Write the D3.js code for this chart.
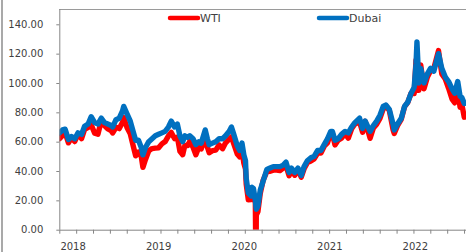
<!DOCTYPE html>
<html>
<head>
<meta charset="utf-8">
<script src="https://cdn.jsdelivr.net/npm/d3@7"></script>
<style>
  body { margin: 0; background: #fff; }
  svg { display: block; }
</style>
</head>
<body>
<svg width="466" height="252"></svg>
<script>
// data (approximate, roughly every two weeks)
const dates = [
  "2018-01-02","2018-01-15","2018-01-26","2018-02-09","2018-02-22","2018-03-08","2018-03-22","2018-04-06",
  "2018-04-19","2018-05-04","2018-05-17","2018-06-01","2018-06-15","2018-06-29","2018-07-13","2018-07-27",
  "2018-08-10","2018-08-17","2018-08-31","2018-09-14","2018-09-28","2018-10-03","2018-10-17","2018-10-31",
  "2018-11-14","2018-11-23","2018-12-05","2018-12-17","2018-12-24","2019-01-04","2019-01-18","2019-02-01",
  "2019-02-15","2019-03-01","2019-03-15","2019-03-29","2019-04-12","2019-04-24","2019-05-08","2019-05-20",
  "2019-05-31","2019-06-12","2019-06-21","2019-07-03","2019-07-12","2019-07-26","2019-08-07","2019-08-20",
  "2019-08-30","2019-09-16","2019-09-25","2019-10-03","2019-10-17","2019-10-31","2019-11-14","2019-11-29",
  "2019-12-12","2019-12-27","2020-01-06","2020-01-16","2020-01-31","2020-02-10","2020-02-20","2020-02-28",
  "2020-03-06","2020-03-09","2020-03-18","2020-03-31","2020-04-02","2020-04-09","2020-04-17","2020-04-20",
  "2020-04-21","2020-04-28","2020-05-08","2020-05-20","2020-06-05","2020-06-19","2020-07-03","2020-07-17",
  "2020-07-31","2020-08-14","2020-08-26","2020-09-08","2020-09-18","2020-10-02","2020-10-16","2020-10-30",
  "2020-11-11","2020-11-25","2020-12-10","2020-12-24","2021-01-08","2021-01-22","2021-02-05","2021-02-19",
  "2021-03-05","2021-03-12","2021-03-23","2021-04-06","2021-04-20","2021-05-05","2021-05-19","2021-06-02",
  "2021-06-16","2021-07-06","2021-07-19","2021-07-30","2021-08-20","2021-09-03","2021-09-17","2021-10-01",
  "2021-10-15","2021-10-26","2021-11-10","2021-11-26","2021-12-01","2021-12-15","2021-12-31","2022-01-14",
  "2022-01-28","2022-02-11","2022-02-24","2022-03-04","2022-03-08","2022-03-16","2022-03-24","2022-04-07",
  "2022-04-21","2022-05-05","2022-05-19","2022-06-08","2022-06-22","2022-07-07","2022-07-21","2022-08-05",
  "2022-08-16","2022-08-29","2022-09-08","2022-09-16","2022-09-26"
];

const wti = [
  62.0,64.3,66.1,59.2,62.8,60.1,65.2,62.1, 68.3,69.7,71.5,65.8,65.1,74.1,71.0,68.7,
  67.6,65.9,69.8,68.9,73.2,76.4,69.7,65.3, 56.2,50.4,52.9,49.9,42.5,47.9,53.8,55.3,
  55.6,55.8,58.5,60.1,63.9,66.3,62.1,63.1, 53.5,51.1,57.4,57.3,60.2,56.2,51.1,56.3,
  55.1,62.9,56.5,52.5,53.9,54.2,57.8,55.2, 59.2,61.7,63.3,58.5,51.6,49.6,53.9,45.3,
  41.3,31.1,20.4,20.5,25.3,22.8,18.3,-37.6, 10.0,12.3,24.7,33.5,39.6,39.8,40.6,40.6,
  40.3,42.0,43.4,36.8,41.1,37.1,40.9,35.8, 41.5,45.7,46.8,48.2,52.2,52.3,56.9,59.2,
  66.1,65.6,57.8,61.1,62.4,65.6,62.4,68.8, 72.1,73.4,66.4,73.9,62.3,69.3,71.9,75.9,
  82.3,84.6,81.3,68.2,65.6,70.9,75.2,83.8, 86.8,93.1,92.8,115.7,116.0,95.0,112.3,96.0,
  103.8,108.3,109.9,122.1,106.2,102.7,96.4,89.0, 86.5,97.0,83.5,85.1,76.7
];

const dubai = [
  66,68,68.5,61.5,63.5,62,66,65, 70.5,72,77,73,72,76,73,72,
  71,70,75,76,81,84,79,74, 66,61,61,56,51,56,60,62,
  64,65,66,67,70,74,70,72, 64,60,64,63,64,62,58,60,
  59,68,62,58,59,60,62,62, 64,67,70,65,57,54,59,51,
  47,35,25,23,29,28,20,15, 14,16,27,33,41,42,43,43,
  43,44,46,39,42,39,42,37, 43,47,49,50,54,54,58,62,
  67,67,61,62,65,67,66,70, 73,76,69,74,67,71,74,78,
  84,85,82,72,68,72,76,84, 87,93,97,113,128,100,110,100,
  106,110,108,120,110,104,101,96, 93,101,91,90,86
];

const seriesNames = ["WTI", "Dubai"];
const seriesColors = ["#ff0000", "#0070c0"];
const yTicks = [0, 20, 40, 60, 80, 100, 120, 140];
const yearLabels = ["2018", "2019", "2020", "2021", "2022"];

const plotLeft = 59.3;
const plotTop = 9;
const plotBottom = 229.7;
const svgWidth = 466;

const svg = d3.select("svg");
const parse = d3.timeParse("%Y-%m-%d");

// x: one day is about 0.234 px, Jan 1 2018 sits on the y axis
const x = d3.scaleTime()
  .domain([new Date(2018, 0, 1), new Date(2022, 0, 1)])
  .range([plotLeft, 401.5]);

const y = d3.scaleLinear()
  .domain([0, 140])
  .range([plotBottom, 24.3]);

// outer frame (only the left edge shows)
svg.append("line")
  .attr("x1", 2).attr("x2", 2)
  .attr("y1", 0).attr("y2", 252)
  .attr("stroke", "#8c8c8c")
  .attr("stroke-width", 1.5);

// plot area top border
svg.append("line")
  .attr("x1", plotLeft).attr("x2", svgWidth)
  .attr("y1", plotTop + 0.5).attr("y2", plotTop + 0.5)
  .attr("stroke", "#9a9a9a");

// clip so the negative WTI print stops at the axis
svg.append("clipPath").attr("id", "plot")
  .append("rect")
  .attr("x", plotLeft).attr("y", plotTop)
  .attr("width", svgWidth - plotLeft).attr("height", plotBottom - plotTop);

const rows = dates.map((d, i) => ({ date: parse(d), wti: wti[i], dubai: dubai[i] }));

const line = key => d3.line()
  .x(d => x(d.date))
  .y(d => y(d[key]));

const plot = svg.append("g").attr("clip-path", "url(#plot)");

["wti", "dubai"].forEach((key, i) => {
  plot.append("path")
    .datum(rows)
    .attr("fill", "none")
    .attr("stroke", seriesColors[i])
    .attr("stroke-width", 5.4)
    .attr("stroke-linejoin", "round")
    .attr("stroke-linecap", "round")
    .attr("d", line(key));
});

// y axis
const yAxis = svg.append("g")
  .attr("transform", `translate(${plotLeft},0)`)
  .call(d3.axisLeft(y).tickValues(yTicks).tickSize(3).tickPadding(13)
    .tickFormat(d3.format(".2f")));
yAxis.select(".domain").attr("d", `M0.5,${plotTop}V${plotBottom}`);

// x axis with evenly spaced minor ticks
const tickStart = new Date(2018, 0, 1);
const xTicks = d3.range(0, 26).map(i => d3.timeDay.offset(tickStart, i * 72));
const xAxis = svg.append("g")
  .attr("transform", `translate(0,${plotBottom})`)
  .call(d3.axisBottom(x).tickValues(xTicks).tickSize(4).tickFormat(""));
xAxis.select(".domain").attr("d", `M${plotLeft},0.5H${svgWidth}`);

[yAxis, xAxis].forEach(g => {
  g.selectAll(".domain, .tick line").attr("stroke", "#868686");
  g.selectAll("text")
    .attr("fill", "#404040")
    .style("font-family", "DejaVu Sans")
    .style("font-size", "10px");
});

// year labels
svg.selectAll(".year")
  .data(yearLabels)
  .enter().append("text")
    .attr("class", "year")
    .attr("x", d => x(new Date(+d, 2, 1)))
    .attr("y", 250)
    .attr("text-anchor", "middle")
    .attr("fill", "#404040")
    .style("font-family", "DejaVu Sans")
    .style("font-size", "10px")
    .text(d => d);

// legend
const legendX = [170, 319];
seriesNames.forEach((name, i) => {
  svg.append("line")
    .attr("x1", legendX[i]).attr("x2", legendX[i] + 28)
    .attr("y1", 18).attr("y2", 18)
    .attr("stroke", seriesColors[i])
    .attr("stroke-width", 4.5)
    .attr("stroke-linecap", "round");
  svg.append("text")
    .attr("x", legendX[i] + 30)
    .attr("y", 22)
    .attr("fill", "#404040")
    .style("font-family", "DejaVu Sans")
    .style("font-size", "11px")
    .text(name);
});
</script>
</body>
</html>
